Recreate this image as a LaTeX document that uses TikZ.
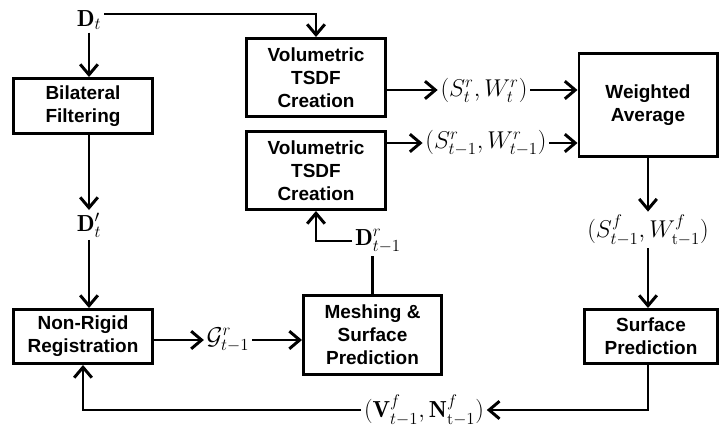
\documentclass[tikz,border=0pt]{standalone}
\usepackage{amsmath,amssymb}
\usepackage{fontspec}
\setsansfont{Liberation Sans}
\usepackage{tikz}
\usetikzlibrary{positioning, arrows.meta, calc}

\begin{document}
\begin{tikzpicture}[
    x=0.025cm, y=-0.025cm,
    line width=2.1pt,
    procbox/.style={draw, rectangle, line width=2.1pt, minimum width=3.475cm, minimum height=1.375cm, align=center, fill=white, inner sep=2pt, font=\sffamily\bfseries\fontsize{13.5}{16.5}\selectfont},
    mathlabel/.style={inner sep=1pt, font=\fontsize{16.5}{18}\selectfont},
    arrow/.style={-{Straight Barb[length=2.6mm, width=4.4mm]}, line width=2.1pt},
    wire/.style={line width=2.1pt}
]
    \useasboundingbox (0,0) rectangle (721,433);

    % ================= INPUT AND FILTERING =================
    \node[mathlabel] (Dt) at (89, 20) {$\mathbf{D}_t$};
    \node[procbox] (bilat) at (83, 106) {Bilateral\\Filtering};
    \node[mathlabel] (Dp) at (89, 225) {$\mathbf{D}'_t$};
    \node[procbox, minimum height=1.35cm] (nonrigid) at (83, 336.5) {Non-Rigid\\Registration};

    \draw[arrow] (Dt.south) -- (Dt.south |- bilat.north);
    \draw[arrow] (Dt.south |- bilat.south) -- (Dp.north);
    \draw[arrow] (Dp.south) -- (Dp.south |- nonrigid.north);

    % ================= TSDF CREATION =================
    \node[procbox, minimum height=1.95cm] (vol1) at (316, 77.5) {Volumetric\\TSDF\\Creation};
    \node[procbox, minimum height=1.95cm] (vol2) at (316, 170.5) {Volumetric\\TSDF\\Creation};

    \draw[arrow] (Dt.east |- 0,14) -| (vol1.north);

    \node[mathlabel] (SWt) at (484, 90) {$(S^r_t, W^r_t)$};
    \node[mathlabel] (SWt1) at (486, 143) {$(S^r_{t-1}, W^r_{t-1})$};

    % ================= FUSION =================
    \node[procbox, minimum width=3.45cm, minimum height=2.575cm] (wavg) at (648, 105) {Weighted\\Average};
    \node[mathlabel] (SWf) at (648, 230) {$(S^f_{t-1}, W^f_{\mathrm{t}-1})$};
    \node[procbox, minimum width=3.325cm, minimum height=1.35cm] (surf) at (651, 336.5) {Surface\\Prediction};

    \draw[arrow] (vol1.east |- SWt) -- (SWt.west);
    \draw[arrow] (SWt.east) -- (wavg.west |- SWt);
    \draw[arrow] (vol2.east |- SWt1) -- (SWt1.west);
    \draw[arrow] (SWt1.east) -- (wavg.west |- SWt1);
    \draw[arrow] (wavg.south) -- (SWf.north);
    \draw[arrow] (SWf.south) -- (SWf.south |- surf.north);

    % ================= MESHING AND FEEDBACK =================
    \node[mathlabel] (G) at (228, 340) {$\mathcal{G}^r_{t-1}$};
    \node[procbox, minimum width=3.45cm, minimum height=1.975cm] (mesh) at (372.5, 335) {Meshing \&\\Surface\\Prediction};
    \node[mathlabel] (Dr) at (378, 241) {$\mathbf{D}^r_{t-1}$};
    \node[mathlabel] (VN) at (424, 410) {$(\mathbf{V}^f_{t-1}, \mathbf{N}^f_{\mathrm{t}-1})$};

    \draw[arrow] (nonrigid.east |- G) -- (G.west);
    \draw[arrow] (G.east) -- (mesh.west |- G);
    \draw[wire] (mesh.north) -- (mesh.north |- Dr.south);
    \draw[arrow] (Dr.west) -| (vol2.south);

    \draw[arrow] (SWf.south |- surf.south) |- (VN.east);
    \draw[arrow] (VN.west) -| (nonrigid.south);

\end{tikzpicture}
\end{document}
